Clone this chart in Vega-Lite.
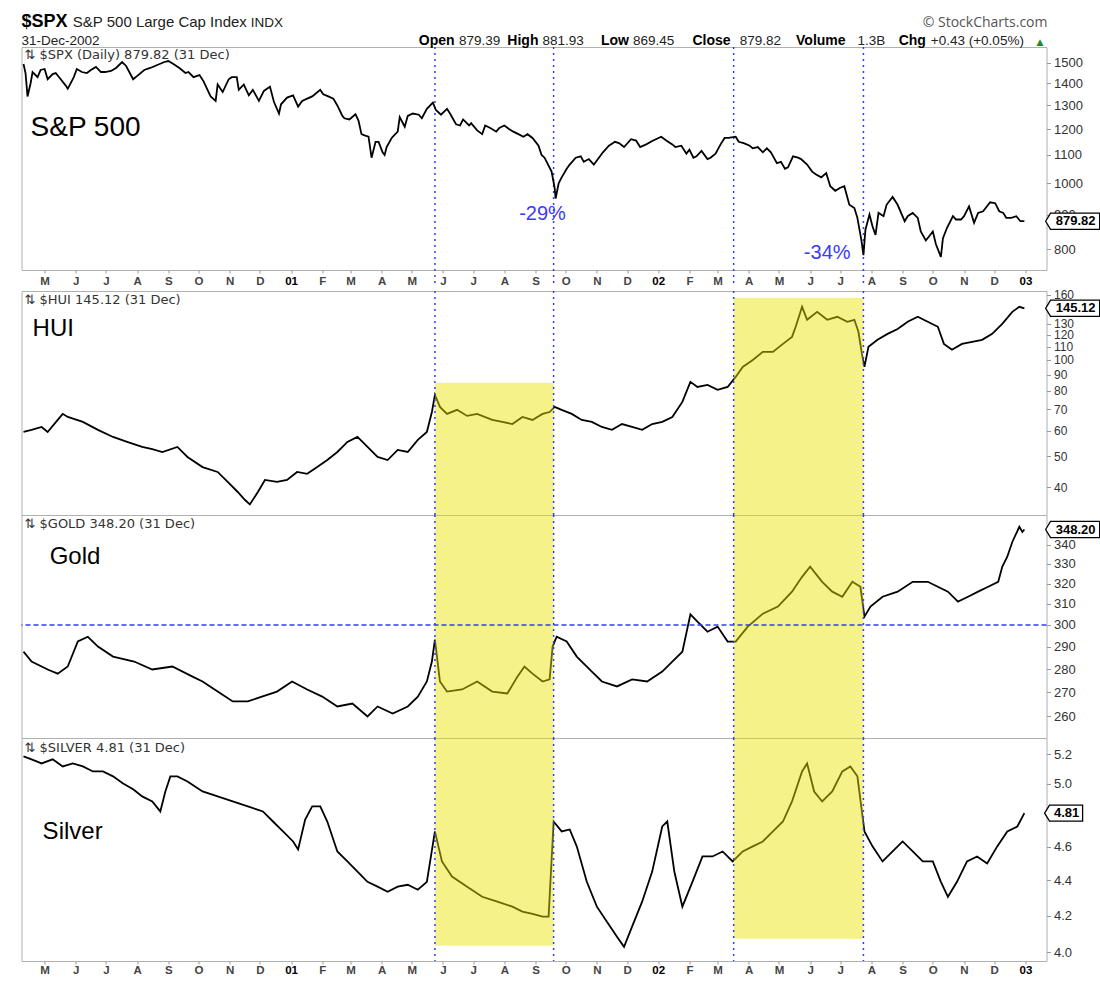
{
  "$schema": "https://vega.github.io/schema/vega-lite/v6.json",
  "background": "white",
  "padding": {"left": 18.5, "top": 12, "right": 0, "bottom": 0},
  "spacing": 0,
  "config": {"view": {"stroke": "#b0b0b0", "strokeWidth": 1}, "font": "Liberation Sans"},
  "datasets": {
    "spx": [
      {"d":"2000-04-10","v":1495},{"d":"2000-04-12","v":1450},{"d":"2000-04-14","v":1340},{"d":"2000-04-17","v":1400},{"d":"2000-04-19","v":1455},{"d":"2000-04-24","v":1430},{"d":"2000-04-27","v":1465},{"d":"2000-05-01","v":1470},{"d":"2000-05-04","v":1420},{"d":"2000-05-09","v":1445},{"d":"2000-05-12","v":1450},{"d":"2000-05-17","v":1420},{"d":"2000-05-22","v":1390},{"d":"2000-05-24","v":1375},{"d":"2000-05-30","v":1430},{"d":"2000-06-02","v":1470},{"d":"2000-06-07","v":1455},{"d":"2000-06-12","v":1450},{"d":"2000-06-16","v":1465},{"d":"2000-06-21","v":1480},{"d":"2000-06-26","v":1455},{"d":"2000-06-30","v":1455},{"d":"2000-07-06","v":1460},{"d":"2000-07-11","v":1475},{"d":"2000-07-17","v":1505},{"d":"2000-07-21","v":1485},{"d":"2000-07-28","v":1420},{"d":"2000-08-02","v":1440},{"d":"2000-08-08","v":1465},{"d":"2000-08-14","v":1475},{"d":"2000-08-21","v":1490},{"d":"2000-08-28","v":1505},{"d":"2000-09-01","v":1510},{"d":"2000-09-06","v":1495},{"d":"2000-09-12","v":1475},{"d":"2000-09-18","v":1450},{"d":"2000-09-21","v":1455},{"d":"2000-09-26","v":1430},{"d":"2000-10-02","v":1440},{"d":"2000-10-06","v":1410},{"d":"2000-10-11","v":1360},{"d":"2000-10-13","v":1340},{"d":"2000-10-18","v":1320},{"d":"2000-10-20","v":1395},{"d":"2000-10-25","v":1360},{"d":"2000-10-31","v":1420},{"d":"2000-11-03","v":1430},{"d":"2000-11-08","v":1430},{"d":"2000-11-10","v":1370},{"d":"2000-11-15","v":1395},{"d":"2000-11-20","v":1345},{"d":"2000-11-24","v":1370},{"d":"2000-11-30","v":1320},{"d":"2000-12-05","v":1365},{"d":"2000-12-11","v":1385},{"d":"2000-12-15","v":1315},{"d":"2000-12-20","v":1265},{"d":"2000-12-22","v":1305},{"d":"2000-12-28","v":1335},{"d":"2001-01-03","v":1345},{"d":"2001-01-08","v":1295},{"d":"2001-01-12","v":1320},{"d":"2001-01-17","v":1330},{"d":"2001-01-22","v":1340},{"d":"2001-01-30","v":1370},{"d":"2001-02-02","v":1350},{"d":"2001-02-07","v":1340},{"d":"2001-02-12","v":1330},{"d":"2001-02-16","v":1300},{"d":"2001-02-21","v":1255},{"d":"2001-02-23","v":1245},{"d":"2001-02-28","v":1240},{"d":"2001-03-06","v":1262},{"d":"2001-03-09","v":1235},{"d":"2001-03-12","v":1180},{"d":"2001-03-15","v":1175},{"d":"2001-03-19","v":1170},{"d":"2001-03-22","v":1090},{"d":"2001-03-26","v":1150},{"d":"2001-03-29","v":1150},{"d":"2001-04-02","v":1110},{"d":"2001-04-04","v":1100},{"d":"2001-04-06","v":1130},{"d":"2001-04-11","v":1165},{"d":"2001-04-17","v":1190},{"d":"2001-04-19","v":1250},{"d":"2001-04-24","v":1210},{"d":"2001-04-27","v":1255},{"d":"2001-05-02","v":1265},{"d":"2001-05-08","v":1260},{"d":"2001-05-11","v":1245},{"d":"2001-05-16","v":1285},{"d":"2001-05-22","v":1312},{"d":"2001-05-25","v":1280},{"d":"2001-05-30","v":1260},{"d":"2001-06-05","v":1285},{"d":"2001-06-08","v":1265},{"d":"2001-06-14","v":1220},{"d":"2001-06-18","v":1215},{"d":"2001-06-21","v":1240},{"d":"2001-06-27","v":1215},{"d":"2001-06-29","v":1225},{"d":"2001-07-05","v":1195},{"d":"2001-07-10","v":1180},{"d":"2001-07-13","v":1215},{"d":"2001-07-18","v":1205},{"d":"2001-07-24","v":1190},{"d":"2001-07-27","v":1205},{"d":"2001-08-01","v":1215},{"d":"2001-08-06","v":1200},{"d":"2001-08-10","v":1190},{"d":"2001-08-15","v":1180},{"d":"2001-08-20","v":1170},{"d":"2001-08-24","v":1180},{"d":"2001-08-29","v":1165},{"d":"2001-09-04","v":1135},{"d":"2001-09-07","v":1100},{"d":"2001-09-10","v":1090},{"d":"2001-09-17","v":1040},{"d":"2001-09-20","v":985},{"d":"2001-09-21","v":950},{"d":"2001-09-24","v":1000},{"d":"2001-09-27","v":1020},{"d":"2001-10-02","v":1050},{"d":"2001-10-05","v":1065},{"d":"2001-10-11","v":1090},{"d":"2001-10-16","v":1095},{"d":"2001-10-19","v":1075},{"d":"2001-10-24","v":1085},{"d":"2001-10-29","v":1065},{"d":"2001-11-01","v":1080},{"d":"2001-11-07","v":1110},{"d":"2001-11-13","v":1135},{"d":"2001-11-19","v":1150},{"d":"2001-11-23","v":1145},{"d":"2001-11-28","v":1130},{"d":"2001-12-05","v":1160},{"d":"2001-12-10","v":1155},{"d":"2001-12-14","v":1130},{"d":"2001-12-20","v":1140},{"d":"2001-12-27","v":1155},{"d":"2002-01-04","v":1170},{"d":"2002-01-09","v":1155},{"d":"2002-01-15","v":1140},{"d":"2002-01-18","v":1130},{"d":"2002-01-24","v":1135},{"d":"2002-01-29","v":1105},{"d":"2002-02-01","v":1120},{"d":"2002-02-05","v":1090},{"d":"2002-02-08","v":1095},{"d":"2002-02-13","v":1115},{"d":"2002-02-19","v":1085},{"d":"2002-02-22","v":1090},{"d":"2002-02-27","v":1105},{"d":"2002-03-04","v":1140},{"d":"2002-03-08","v":1165},{"d":"2002-03-12","v":1165},{"d":"2002-03-19","v":1170},{"d":"2002-03-22","v":1150},{"d":"2002-03-27","v":1145},{"d":"2002-04-02","v":1135},{"d":"2002-04-05","v":1125},{"d":"2002-04-10","v":1130},{"d":"2002-04-15","v":1110},{"d":"2002-04-19","v":1125},{"d":"2002-04-23","v":1110},{"d":"2002-04-29","v":1070},{"d":"2002-05-03","v":1075},{"d":"2002-05-07","v":1050},{"d":"2002-05-10","v":1055},{"d":"2002-05-15","v":1095},{"d":"2002-05-20","v":1090},{"d":"2002-05-23","v":1085},{"d":"2002-05-29","v":1065},{"d":"2002-06-03","v":1040},{"d":"2002-06-07","v":1030},{"d":"2002-06-12","v":1020},{"d":"2002-06-17","v":1035},{"d":"2002-06-21","v":990},{"d":"2002-06-26","v":975},{"d":"2002-07-01","v":985},{"d":"2002-07-05","v":990},{"d":"2002-07-10","v":930},{"d":"2002-07-15","v":920},{"d":"2002-07-18","v":890},{"d":"2002-07-22","v":825},{"d":"2002-07-24","v":785},{"d":"2002-07-26","v":855},{"d":"2002-07-30","v":900},{"d":"2002-08-02","v":865},{"d":"2002-08-05","v":840},{"d":"2002-08-08","v":905},{"d":"2002-08-13","v":895},{"d":"2002-08-16","v":930},{"d":"2002-08-22","v":955},{"d":"2002-08-27","v":930},{"d":"2002-09-03","v":880},{"d":"2002-09-06","v":895},{"d":"2002-09-11","v":905},{"d":"2002-09-16","v":890},{"d":"2002-09-19","v":850},{"d":"2002-09-24","v":825},{"d":"2002-09-27","v":835},{"d":"2002-10-01","v":850},{"d":"2002-10-04","v":815},{"d":"2002-10-09","v":780},{"d":"2002-10-11","v":830},{"d":"2002-10-15","v":860},{"d":"2002-10-21","v":895},{"d":"2002-10-24","v":885},{"d":"2002-10-29","v":885},{"d":"2002-11-01","v":895},{"d":"2002-11-06","v":925},{"d":"2002-11-11","v":875},{"d":"2002-11-15","v":905},{"d":"2002-11-20","v":910},{"d":"2002-11-25","v":930},{"d":"2002-11-27","v":938},{"d":"2002-12-02","v":935},{"d":"2002-12-06","v":910},{"d":"2002-12-10","v":905},{"d":"2002-12-13","v":890},{"d":"2002-12-18","v":890},{"d":"2002-12-23","v":895},{"d":"2002-12-27","v":880},{"d":"2002-12-31","v":880}
    ],
    "hui": [
      {"d":"2000-04-10","v":59.5},{"d":"2000-04-18","v":60.4},{"d":"2000-04-28","v":61.7},{"d":"2000-05-04","v":59.5},{"d":"2000-05-14","v":64.9},{"d":"2000-05-19","v":67.8},{"d":"2000-05-24","v":66.3},{"d":"2000-06-08","v":64},{"d":"2000-06-23","v":60.4},{"d":"2000-07-08","v":57.4},{"d":"2000-07-22","v":55.4},{"d":"2000-08-06","v":53.4},{"d":"2000-08-16","v":52.6},{"d":"2000-08-26","v":51.5},{"d":"2000-09-10","v":53.4},{"d":"2000-09-20","v":49.7},{"d":"2000-10-05","v":46.2},{"d":"2000-10-20","v":44.6},{"d":"2000-10-30","v":41.5},{"d":"2000-11-09","v":38.6},{"d":"2000-11-16","v":36.5},{"d":"2000-11-21","v":35.3},{"d":"2000-11-29","v":38.6},{"d":"2000-12-06","v":42.1},{"d":"2000-12-18","v":41.5},{"d":"2000-12-28","v":42.1},{"d":"2001-01-07","v":44.6},{"d":"2001-01-17","v":44},{"d":"2001-01-27","v":46.2},{"d":"2001-02-06","v":48.6},{"d":"2001-02-16","v":51.5},{"d":"2001-02-26","v":55.4},{"d":"2001-03-08","v":57.4},{"d":"2001-03-18","v":53.4},{"d":"2001-03-28","v":49.7},{"d":"2001-04-07","v":48.6},{"d":"2001-04-17","v":52.3},{"d":"2001-04-27","v":51.5},{"d":"2001-05-07","v":56.2},{"d":"2001-05-16","v":59.5},{"d":"2001-05-21","v":68.7},{"d":"2001-05-24","v":77.7},{"d":"2001-05-29","v":71.3},{"d":"2001-06-05","v":67.8},{"d":"2001-06-15","v":69.8},{"d":"2001-06-25","v":66.8},{"d":"2001-07-05","v":67.8},{"d":"2001-07-20","v":64.9},{"d":"2001-07-30","v":64},{"d":"2001-08-09","v":63},{"d":"2001-08-19","v":66.3},{"d":"2001-08-29","v":64.9},{"d":"2001-09-08","v":67.8},{"d":"2001-09-15","v":68.7},{"d":"2001-09-20","v":71.3},{"d":"2001-09-27","v":69.8},{"d":"2001-10-07","v":67.8},{"d":"2001-10-17","v":64.9},{"d":"2001-10-27","v":64},{"d":"2001-11-06","v":61.7},{"d":"2001-11-16","v":60.4},{"d":"2001-11-26","v":63},{"d":"2001-12-06","v":61.7},{"d":"2001-12-16","v":60.4},{"d":"2001-12-26","v":63},{"d":"2002-01-05","v":64},{"d":"2002-01-15","v":66.3},{"d":"2002-01-25","v":73.9},{"d":"2002-02-02","v":85.4},{"d":"2002-02-09","v":82.3},{"d":"2002-02-19","v":83.5},{"d":"2002-03-01","v":80.6},{"d":"2002-03-11","v":82.3},{"d":"2002-03-19","v":88.5},{"d":"2002-03-26","v":95.1},{"d":"2002-04-05","v":100},{"d":"2002-04-15","v":106},{"d":"2002-04-25","v":106},{"d":"2002-05-05","v":112.3},{"d":"2002-05-14","v":118.1},{"d":"2002-05-18","v":128},{"d":"2002-05-24","v":146.7},{"d":"2002-05-29","v":133.6},{"d":"2002-06-08","v":141.5},{"d":"2002-06-18","v":133.6},{"d":"2002-06-28","v":136.5},{"d":"2002-07-08","v":131.7},{"d":"2002-07-15","v":133.6},{"d":"2002-07-19","v":122.5},{"d":"2002-07-23","v":102.3},{"d":"2002-07-25","v":95.1},{"d":"2002-07-29","v":109.9},{"d":"2002-08-07","v":115.6},{"d":"2002-08-17","v":120.7},{"d":"2002-08-27","v":125},{"d":"2002-09-06","v":131.7},{"d":"2002-09-16","v":136.5},{"d":"2002-09-26","v":131.7},{"d":"2002-10-06","v":127},{"d":"2002-10-12","v":112.3},{"d":"2002-10-20","v":107.6},{"d":"2002-10-30","v":112.3},{"d":"2002-11-09","v":114},{"d":"2002-11-19","v":115.6},{"d":"2002-11-29","v":120.7},{"d":"2002-12-09","v":129.8},{"d":"2002-12-19","v":141.5},{"d":"2002-12-26","v":146.7},{"d":"2002-12-31","v":145.12}
    ],
    "gold": [
      {"d":"2000-04-10","v":287.7},{"d":"2000-04-18","v":283.3},{"d":"2000-05-04","v":279.8},{"d":"2000-05-14","v":278},{"d":"2000-05-24","v":281.1},{"d":"2000-06-03","v":292.3},{"d":"2000-06-13","v":294.5},{"d":"2000-06-23","v":290},{"d":"2000-07-08","v":285.5},{"d":"2000-07-29","v":283.3},{"d":"2000-08-16","v":279.8},{"d":"2000-09-05","v":281.1},{"d":"2000-09-25","v":276.7},{"d":"2000-10-05","v":274.6},{"d":"2000-10-20","v":270.3},{"d":"2000-11-04","v":266.2},{"d":"2000-11-19","v":266.2},{"d":"2000-12-03","v":268.2},{"d":"2000-12-18","v":270.3},{"d":"2001-01-02","v":274.6},{"d":"2001-01-17","v":271.2},{"d":"2001-02-01","v":268.2},{"d":"2001-02-16","v":264.1},{"d":"2001-03-03","v":265.3},{"d":"2001-03-18","v":260},{"d":"2001-03-28","v":264.1},{"d":"2001-04-12","v":261.2},{"d":"2001-04-27","v":264.1},{"d":"2001-05-07","v":268.2},{"d":"2001-05-16","v":274.6},{"d":"2001-05-21","v":283.3},{"d":"2001-05-24","v":293.2},{"d":"2001-05-29","v":274.6},{"d":"2001-06-05","v":270.3},{"d":"2001-06-20","v":271.2},{"d":"2001-07-05","v":274.6},{"d":"2001-07-20","v":270.3},{"d":"2001-08-04","v":269.5},{"d":"2001-08-14","v":276.7},{"d":"2001-08-21","v":281.1},{"d":"2001-08-29","v":278},{"d":"2001-09-08","v":274.6},{"d":"2001-09-15","v":275.5},{"d":"2001-09-18","v":290},{"d":"2001-09-22","v":294.5},{"d":"2001-10-02","v":292.3},{"d":"2001-10-12","v":285.5},{"d":"2001-10-27","v":278.9},{"d":"2001-11-06","v":274.6},{"d":"2001-11-21","v":272.5},{"d":"2001-12-06","v":275.5},{"d":"2001-12-21","v":274.6},{"d":"2002-01-05","v":278.9},{"d":"2002-01-15","v":283.3},{"d":"2002-01-25","v":287.7},{"d":"2002-02-02","v":305},{"d":"2002-02-09","v":301.5},{"d":"2002-02-19","v":296.8},{"d":"2002-03-01","v":299.2},{"d":"2002-03-11","v":292.3},{"d":"2002-03-19","v":292.3},{"d":"2002-03-31","v":299.2},{"d":"2002-04-15","v":305.3},{"d":"2002-04-30","v":308.7},{"d":"2002-05-14","v":316},{"d":"2002-05-24","v":323.4},{"d":"2002-06-01","v":328.5},{"d":"2002-06-13","v":320.9},{"d":"2002-06-23","v":316},{"d":"2002-07-03","v":313.5},{"d":"2002-07-13","v":320.9},{"d":"2002-07-21","v":318.4},{"d":"2002-07-25","v":303.9},{"d":"2002-07-31","v":308.7},{"d":"2002-08-12","v":313.5},{"d":"2002-08-27","v":316},{"d":"2002-09-11","v":320.9},{"d":"2002-09-26","v":320.9},{"d":"2002-10-06","v":318.4},{"d":"2002-10-16","v":316},{"d":"2002-10-26","v":311.1},{"d":"2002-11-05","v":313.5},{"d":"2002-11-15","v":316},{"d":"2002-11-25","v":318.4},{"d":"2002-12-05","v":320.9},{"d":"2002-12-09","v":328.5},{"d":"2002-12-14","v":333.7},{"d":"2002-12-19","v":341.5},{"d":"2002-12-26","v":349.7},{"d":"2002-12-29","v":346.9},{"d":"2002-12-31","v":348.2}
    ],
    "silver": [
      {"d":"2000-04-10","v":5.185},{"d":"2000-04-18","v":5.165},{"d":"2000-04-28","v":5.137},{"d":"2000-05-09","v":5.165},{"d":"2000-05-19","v":5.117},{"d":"2000-05-29","v":5.137},{"d":"2000-06-08","v":5.117},{"d":"2000-06-18","v":5.083},{"d":"2000-06-28","v":5.083},{"d":"2000-07-08","v":5.05},{"d":"2000-07-18","v":5.003},{"d":"2000-07-28","v":4.964},{"d":"2000-08-06","v":4.918},{"d":"2000-08-16","v":4.885},{"d":"2000-08-24","v":4.821},{"d":"2000-08-29","v":4.95},{"d":"2000-09-03","v":5.05},{"d":"2000-09-10","v":5.05},{"d":"2000-09-20","v":5.016},{"d":"2000-10-05","v":4.95},{"d":"2000-10-20","v":4.918},{"d":"2000-11-04","v":4.885},{"d":"2000-11-19","v":4.853},{"d":"2000-12-04","v":4.821},{"d":"2000-12-14","v":4.757},{"d":"2000-12-24","v":4.695},{"d":"2001-01-03","v":4.633},{"d":"2001-01-08","v":4.584},{"d":"2001-01-15","v":4.77},{"d":"2001-01-22","v":4.853},{"d":"2001-01-30","v":4.853},{"d":"2001-02-06","v":4.757},{"d":"2001-02-16","v":4.572},{"d":"2001-02-26","v":4.512},{"d":"2001-03-08","v":4.452},{"d":"2001-03-18","v":4.392},{"d":"2001-03-28","v":4.364},{"d":"2001-04-07","v":4.335},{"d":"2001-04-17","v":4.364},{"d":"2001-04-27","v":4.375},{"d":"2001-05-07","v":4.346},{"d":"2001-05-16","v":4.392},{"d":"2001-05-24","v":4.695},{"d":"2001-05-31","v":4.512},{"d":"2001-06-10","v":4.423},{"d":"2001-06-25","v":4.364},{"d":"2001-07-10","v":4.306},{"d":"2001-07-25","v":4.278},{"d":"2001-08-09","v":4.25},{"d":"2001-08-19","v":4.222},{"d":"2001-08-29","v":4.21},{"d":"2001-09-08","v":4.194},{"d":"2001-09-14","v":4.194},{"d":"2001-09-19","v":4.757},{"d":"2001-09-27","v":4.695},{"d":"2001-10-05","v":4.707},{"d":"2001-10-12","v":4.603},{"d":"2001-10-22","v":4.392},{"d":"2001-11-01","v":4.25},{"d":"2001-11-11","v":4.166},{"d":"2001-11-21","v":4.084},{"d":"2001-11-28","v":4.03},{"d":"2001-12-06","v":4.139},{"d":"2001-12-16","v":4.278},{"d":"2001-12-26","v":4.452},{"d":"2002-01-05","v":4.726},{"d":"2002-01-10","v":4.757},{"d":"2002-01-17","v":4.452},{"d":"2002-01-25","v":4.25},{"d":"2002-02-04","v":4.392},{"d":"2002-02-14","v":4.542},{"d":"2002-02-24","v":4.542},{"d":"2002-03-06","v":4.572},{"d":"2002-03-16","v":4.512},{"d":"2002-03-26","v":4.572},{"d":"2002-04-05","v":4.603},{"d":"2002-04-15","v":4.633},{"d":"2002-04-25","v":4.695},{"d":"2002-05-05","v":4.757},{"d":"2002-05-14","v":4.885},{"d":"2002-05-24","v":5.083},{"d":"2002-05-29","v":5.137},{"d":"2002-06-05","v":4.95},{"d":"2002-06-13","v":4.885},{"d":"2002-06-23","v":4.95},{"d":"2002-07-03","v":5.083},{"d":"2002-07-11","v":5.117},{"d":"2002-07-18","v":5.05},{"d":"2002-07-25","v":4.695},{"d":"2002-08-02","v":4.603},{"d":"2002-08-12","v":4.512},{"d":"2002-08-22","v":4.572},{"d":"2002-09-01","v":4.633},{"d":"2002-09-11","v":4.572},{"d":"2002-09-21","v":4.512},{"d":"2002-10-01","v":4.512},{"d":"2002-10-09","v":4.392},{"d":"2002-10-16","v":4.306},{"d":"2002-10-25","v":4.392},{"d":"2002-11-04","v":4.512},{"d":"2002-11-14","v":4.542},{"d":"2002-11-24","v":4.5},{"d":"2002-12-04","v":4.603},{"d":"2002-12-14","v":4.695},{"d":"2002-12-24","v":4.726},{"d":"2002-12-31","v":4.81}
    ],
    "vl": [{"d":"2001-05-24","st":1583,"sb":706},{"d":"2001-09-19","st":1583,"sb":706},{"d":"2002-03-17","st":1583,"sb":706},{"d":"2002-07-24","st":1583,"sb":706}],
    "hl": [{"d1":"2001-05-24","d2":"2001-09-19","top":84.8,"hb":32.7,"st":5.313,"bot":4.036},{"d1":"2002-03-17","d2":"2002-07-24","top":156.6,"hb":32.7,"st":5.313,"bot":4.073}]
  },
  "vconcat": [
    {
      "width": 1025, "height": 223,
      "layer": [
        {"data": {"name": "vl"}, "mark": {"type": "rule", "color": "#2f3cff", "strokeDash": [2, 4], "strokeWidth": 1.5},
         "encoding": {"x": {"field": "d", "type": "temporal", "title": null}, "y": {"field": "st", "type": "quantitative", "title": null}, "y2": {"field": "sb"}}},
        {"data": {"name": "spx"}, "mark": {"type": "line", "color": "#000", "strokeWidth": 1.8},
         "encoding": {
           "x": {"field": "d", "type": "temporal", "title": null,
                 "scale": {"type": "utc", "domain": [{"year": 2000, "month": 4, "date": 8, "utc": true}, {"year": 2003, "month": 1, "date": 22, "utc": true}]},
                 "axis": {"orient": "bottom", "tickCount": {"interval": "month", "step": 1}, "labelExpr": "utcmonth(datum.value)==0 ? utcFormat(datum.value,'%y') : slice(utcFormat(datum.value,'%b'),0,1)", "labelFontWeight": "bold", "labelFont": "Liberation Sans", "labelFontSize": 11.5, "labelColor": {"condition": {"test": "utcmonth(datum.value)==0", "value": "#000"}, "value": "#444"}, "grid": false, "domain": false, "ticks": true, "tickSize": 3, "tickColor": "#999", "labelPadding": 2, "minExtent": 17, "maxExtent": 17, "labelFlush": false, "labelOverlap": false, "title": null}},
           "y": {"field": "v", "type": "quantitative", "title": null,
                 "scale": {"type": "log", "domain": [746.5, 1583], "nice": false},
                 "axis": {"orient": "right", "values": [800, 900, 1000, 1100, 1200, 1300, 1400, 1500], "format": "d", "title": null, "grid": false, "domain": false, "tickSize": 4, "tickColor": "#999", "labelFont": "Liberation Sans", "labelFontSize": 13, "labelColor": "#333", "labelPadding": 3, "labelOverlap": false, "labelFlush": false, "labelBound": false}}
         }},
        {"data": {"values": [{"d": "2000-04-17", "v": 1203, "t": "S&P 500"}]}, "mark": {"type": "text", "fontSize": 28, "align": "left", "baseline": "middle", "font": "Liberation Sans", "color": "#000"},
         "encoding": {"x": {"field": "d", "type": "temporal", "title": null}, "y": {"field": "v", "type": "quantitative", "title": null}, "text": {"field": "t"}}},
        {"data": {"values": [{"d": "2001-09-08", "v": 903, "t": "-29%"}, {"d": "2002-06-18", "v": 789.5, "t": "-34%"}]}, "mark": {"type": "text", "fontSize": 20, "align": "center", "baseline": "middle", "font": "Liberation Sans", "color": "#3a3aff"},
         "encoding": {"x": {"field": "d", "type": "temporal", "title": null}, "y": {"field": "v", "type": "quantitative", "title": null}, "text": {"field": "t"}}},
        {"data": {"values": [{"d": "2000-04-11", "v": 1539, "t": "⇅ $SPX (Daily) 879.82 (31 Dec)"}]}, "mark": {"type": "text", "fontSize": 13, "align": "left", "baseline": "middle", "font": "DejaVu Sans", "color": "#333"},
         "encoding": {"x": {"field": "d", "type": "temporal", "title": null}, "y": {"field": "v", "type": "quantitative", "title": null}, "text": {"field": "t"}}},
        {"data": {"values": [{"d": "2000-04-08", "v": 1692, "t": "$SPX"}]}, "mark": {"type": "text", "fontSize": 18, "fontWeight": "bold", "align": "left", "baseline": "alphabetic", "font": "Liberation Sans", "color": "#000"},
         "encoding": {"x": {"field": "d", "type": "temporal", "title": null}, "y": {"field": "v", "type": "quantitative", "title": null}, "text": {"field": "t"}}},
        {"data": {"values": [{"d": "2000-05-29", "v": 1692, "t": "S&P 500 Large Cap Index"}]}, "mark": {"type": "text", "fontSize": 15, "align": "left", "baseline": "alphabetic", "font": "Liberation Sans", "color": "#222"},
         "encoding": {"x": {"field": "d", "type": "temporal", "title": null}, "y": {"field": "v", "type": "quantitative", "title": null}, "text": {"field": "t"}}},
        {"data": {"values": [{"d": "2000-11-22", "v": 1692, "t": "INDX"}, {"d": "2000-04-08", "v": 1592, "t": "31-Dec-2002"}]}, "mark": {"type": "text", "fontSize": 13.5, "align": "left", "baseline": "alphabetic", "font": "Liberation Sans", "color": "#222"},
         "encoding": {"x": {"field": "d", "type": "temporal", "title": null}, "y": {"field": "v", "type": "quantitative", "title": null}, "text": {"field": "t"}}},
        {"data": {"values": [{"d": "2001-05-08", "v": 1592, "t": "Open"}, {"d": "2001-08-04", "v": 1592, "t": "High"}, {"d": "2001-11-05", "v": 1592, "t": "Low"}, {"d": "2002-02-04", "v": 1592, "t": "Close"}, {"d": "2002-05-18", "v": 1592, "t": "Volume"}, {"d": "2002-08-28", "v": 1592, "t": "Chg"}]}, "mark": {"type": "text", "fontSize": 14, "fontWeight": "bold", "align": "left", "baseline": "alphabetic", "font": "Liberation Sans", "color": "#000"},
         "encoding": {"x": {"field": "d", "type": "temporal", "title": null}, "y": {"field": "v", "type": "quantitative", "title": null}, "text": {"field": "t"}}},
        {"data": {"values": [{"d": "2001-06-17", "v": 1592, "t": "879.39"}, {"d": "2001-09-08", "v": 1592, "t": "881.93"}, {"d": "2001-12-07", "v": 1592, "t": "869.45"}, {"d": "2002-03-23", "v": 1592, "t": "879.82"}, {"d": "2002-07-18", "v": 1592, "t": "1.3B"}, {"d": "2002-09-29", "v": 1592, "t": "+0.43 (+0.05%)"}]}, "mark": {"type": "text", "fontSize": 13.5, "align": "left", "baseline": "alphabetic", "font": "Liberation Sans", "color": "#222"},
         "encoding": {"x": {"field": "d", "type": "temporal", "title": null}, "y": {"field": "v", "type": "quantitative", "title": null}, "text": {"field": "t"}}},
        {"data": {"values": [{"d": "2003-01-12", "v": 1592, "t": "▲"}]}, "mark": {"type": "text", "fontSize": 9, "align": "left", "baseline": "alphabetic", "font": "DejaVu Sans", "color": "#1a8f1a"},
         "encoding": {"x": {"field": "d", "type": "temporal", "title": null}, "y": {"field": "v", "type": "quantitative", "title": null}, "text": {"field": "t"}}},
        {"data": {"values": [{"d": "2003-01-23", "v": 1692, "t": "© StockCharts.com"}]}, "mark": {"type": "text", "fontSize": 14, "align": "right", "baseline": "alphabetic", "font": "Open Sans", "color": "#555"},
         "encoding": {"x": {"field": "d", "type": "temporal", "title": null}, "y": {"field": "v", "type": "quantitative", "title": null}, "text": {"field": "t"}}},
        {"data": {"values": [{"d": "2003-02-17", "v": 879.82, "t": "879.82"}]}, "mark": {"type": "point", "shape": "M-1,0L-0.82,-0.3L1,-0.3L1,0.3L-0.82,0.3Z", "size": 2916, "filled": true, "fill": "#fff", "stroke": "#000", "strokeWidth": 1.3, "opacity": 1},
         "encoding": {"x": {"field": "d", "type": "temporal", "title": null}, "y": {"field": "v", "type": "quantitative", "title": null}}},
        {"data": {"values": [{"d": "2003-02-17", "v": 879.82, "t": "879.82"}]}, "mark": {"type": "text", "fontSize": 13, "fontWeight": "bold", "dx": 3, "align": "center", "baseline": "middle", "font": "Liberation Sans", "color": "#000"},
         "encoding": {"x": {"field": "d", "type": "temporal", "title": null}, "y": {"field": "v", "type": "quantitative", "title": null}, "text": {"field": "t"}}}
      ]
    },
    {
      "spacing": 0,
      "bounds": "flush",
      "vconcat": [
        {
          "width": 1025, "height": 224,
          "layer": [
            {"data": {"name": "hui"}, "mark": {"type": "line", "color": "#000", "strokeWidth": 1.8},
             "encoding": {
               "x": {"field": "d", "type": "temporal", "title": null, "axis": null,
                     "scale": {"type": "utc", "domain": [{"year": 2000, "month": 4, "date": 8, "utc": true}, {"year": 2003, "month": 1, "date": 22, "utc": true}]}},
               "y": {"field": "v", "type": "quantitative", "title": null,
                     "scale": {"type": "log", "domain": [32.7, 164.4], "nice": false},
                     "axis": {"orient": "right", "values": [40, 50, 60, 70, 80, 90, 100, 110, 120, 130, 160], "title": null, "grid": false, "domain": false, "tickSize": 4, "tickColor": "#999", "labelFont": "Liberation Sans", "labelFontSize": 12, "labelColor": "#333", "labelPadding": 3, "labelOverlap": false, "labelFlush": false, "labelBound": false}}
             }},
            {"data": {"name": "hl"}, "mark": {"type": "rect", "color": "#ebe300", "opacity": 0.46},
             "encoding": {"x": {"field": "d1", "type": "temporal", "title": null, "axis": null}, "x2": {"field": "d2"}, "y": {"field": "top", "type": "quantitative", "title": null}, "y2": {"field": "hb"}}},
            {"data": {"name": "vl"}, "mark": {"type": "rule", "color": "#2f3cff", "strokeDash": [2, 4], "strokeWidth": 1.5},
             "encoding": {"x": {"field": "d", "type": "temporal", "title": null, "axis": null}}},
            {"data": {"values": [{"d": "2000-04-19", "v": 125.2, "t": "HUI"}]}, "mark": {"type": "text", "fontSize": 24, "align": "left", "baseline": "middle", "font": "Liberation Sans", "color": "#000"},
             "encoding": {"x": {"field": "d", "type": "temporal", "title": null, "axis": null}, "y": {"field": "v", "type": "quantitative", "title": null}, "text": {"field": "t"}}},
            {"data": {"values": [{"d": "2000-04-11", "v": 154.3, "t": "⇅ $HUI 145.12 (31 Dec)"}]}, "mark": {"type": "text", "fontSize": 13, "align": "left", "baseline": "middle", "font": "DejaVu Sans", "color": "#333"},
             "encoding": {"x": {"field": "d", "type": "temporal", "title": null, "axis": null}, "y": {"field": "v", "type": "quantitative", "title": null}, "text": {"field": "t"}}},
            {"data": {"values": [{"d": "2003-02-17", "v": 145.12, "t": "145.12"}]}, "mark": {"type": "point", "shape": "M-1,0L-0.82,-0.3L1,-0.3L1,0.3L-0.82,0.3Z", "size": 2916, "filled": true, "fill": "#fff", "stroke": "#000", "strokeWidth": 1.3, "opacity": 1},
             "encoding": {"x": {"field": "d", "type": "temporal", "title": null, "axis": null}, "y": {"field": "v", "type": "quantitative", "title": null}}},
            {"data": {"values": [{"d": "2003-02-17", "v": 145.12, "t": "145.12"}]}, "mark": {"type": "text", "fontSize": 13, "fontWeight": "bold", "dx": 3, "align": "center", "baseline": "middle", "font": "Liberation Sans", "color": "#000"},
             "encoding": {"x": {"field": "d", "type": "temporal", "title": null, "axis": null}, "y": {"field": "v", "type": "quantitative", "title": null}, "text": {"field": "t"}}}
          ]
        },
        {
          "width": 1025, "height": 223,
          "layer": [
            {"data": {"name": "gold"}, "mark": {"type": "line", "color": "#000", "strokeWidth": 1.8},
             "encoding": {
               "x": {"field": "d", "type": "temporal", "title": null, "axis": null,
                     "scale": {"type": "utc", "domain": [{"year": 2000, "month": 4, "date": 8, "utc": true}, {"year": 2003, "month": 1, "date": 22, "utc": true}]}},
               "y": {"field": "v", "type": "quantitative", "title": null,
                     "scale": {"type": "log", "domain": [251.4, 356.2], "nice": false},
                     "axis": {"orient": "right", "values": [260, 270, 280, 290, 300, 310, 320, 330, 340], "title": null, "grid": false, "domain": false, "tickSize": 4, "tickColor": "#999", "labelFont": "Liberation Sans", "labelFontSize": 13, "labelColor": "#333", "labelPadding": 3, "labelOverlap": false, "labelFlush": false, "labelBound": false}}
             }},
            {"data": {"name": "hl"}, "mark": {"type": "rect", "color": "#ebe300", "opacity": 0.46},
             "encoding": {"x": {"field": "d1", "type": "temporal", "title": null, "axis": null}, "x2": {"field": "d2"}}},
            {"data": {"name": "vl"}, "mark": {"type": "rule", "color": "#2f3cff", "strokeDash": [2, 4], "strokeWidth": 1.5},
             "encoding": {"x": {"field": "d", "type": "temporal", "title": null, "axis": null}}},
            {"data": {"values": [{"v": 300}]}, "mark": {"type": "rule", "color": "#2f3cff", "strokeDash": [5, 3], "strokeWidth": 1.5},
             "encoding": {"y": {"field": "v", "type": "quantitative", "title": null}}},
            {"data": {"values": [{"d": "2000-05-06", "v": 333.6, "t": "Gold"}]}, "mark": {"type": "text", "fontSize": 24, "align": "left", "baseline": "middle", "font": "Liberation Sans", "color": "#000"},
             "encoding": {"x": {"field": "d", "type": "temporal", "title": null, "axis": null}, "y": {"field": "v", "type": "quantitative", "title": null}, "text": {"field": "t"}}},
            {"data": {"values": [{"d": "2000-04-11", "v": 351.4, "t": "⇅ $GOLD 348.20 (31 Dec)"}]}, "mark": {"type": "text", "fontSize": 13, "align": "left", "baseline": "middle", "font": "DejaVu Sans", "color": "#333"},
             "encoding": {"x": {"field": "d", "type": "temporal", "title": null, "axis": null}, "y": {"field": "v", "type": "quantitative", "title": null}, "text": {"field": "t"}}},
            {"data": {"values": [{"d": "2003-02-17", "v": 348.2, "t": "348.20"}]}, "mark": {"type": "point", "shape": "M-1,0L-0.82,-0.3L1,-0.3L1,0.3L-0.82,0.3Z", "size": 2916, "filled": true, "fill": "#fff", "stroke": "#000", "strokeWidth": 1.3, "opacity": 1},
             "encoding": {"x": {"field": "d", "type": "temporal", "title": null, "axis": null}, "y": {"field": "v", "type": "quantitative", "title": null}}},
            {"data": {"values": [{"d": "2003-02-17", "v": 348.2, "t": "348.20"}]}, "mark": {"type": "text", "fontSize": 13, "fontWeight": "bold", "dx": 3, "align": "center", "baseline": "middle", "font": "Liberation Sans", "color": "#000"},
             "encoding": {"x": {"field": "d", "type": "temporal", "title": null, "axis": null}, "y": {"field": "v", "type": "quantitative", "title": null}, "text": {"field": "t"}}}
          ]
        },
        {
          "width": 1025, "height": 223,
          "layer": [
            {"data": {"name": "silver"}, "mark": {"type": "line", "color": "#000", "strokeWidth": 1.8},
             "encoding": {
               "x": {"field": "d", "type": "temporal", "title": null,
                     "scale": {"type": "utc", "domain": [{"year": 2000, "month": 4, "date": 8, "utc": true}, {"year": 2003, "month": 1, "date": 22, "utc": true}]},
                     "axis": {"orient": "bottom", "tickCount": {"interval": "month", "step": 1}, "labelExpr": "utcmonth(datum.value)==0 ? utcFormat(datum.value,'%y') : slice(utcFormat(datum.value,'%b'),0,1)", "labelFontWeight": "bold", "labelFont": "Liberation Sans", "labelFontSize": 11.5, "labelColor": {"condition": {"test": "utcmonth(datum.value)==0", "value": "#000"}, "value": "#444"}, "grid": false, "domain": false, "ticks": true, "tickSize": 3, "tickColor": "#999", "labelPadding": 0, "labelFlush": false, "labelOverlap": false, "title": null}},
               "y": {"field": "v", "type": "quantitative", "title": null,
                     "scale": {"type": "log", "domain": [3.955, 5.313], "nice": false},
                     "axis": {"orient": "right", "values": [4.0, 4.2, 4.4, 4.6, 5.0, 5.2], "format": ".1f", "title": null, "grid": false, "domain": false, "tickSize": 4, "tickColor": "#999", "labelFont": "Liberation Sans", "labelFontSize": 13, "labelColor": "#333", "labelPadding": 3, "labelOverlap": false, "labelFlush": false, "labelBound": false}}
             }},
            {"data": {"name": "hl"}, "mark": {"type": "rect", "color": "#ebe300", "opacity": 0.46},
             "encoding": {"x": {"field": "d1", "type": "temporal", "title": null}, "x2": {"field": "d2"}, "y": {"field": "st", "type": "quantitative", "title": null}, "y2": {"field": "bot"}}},
            {"data": {"name": "vl"}, "mark": {"type": "rule", "color": "#2f3cff", "strokeDash": [2, 4], "strokeWidth": 1.5},
             "encoding": {"x": {"field": "d", "type": "temporal", "title": null}}},
            {"data": {"values": [{"d": "2000-04-29", "v": 4.69, "t": "Silver"}]}, "mark": {"type": "text", "fontSize": 24, "align": "left", "baseline": "middle", "font": "Liberation Sans", "color": "#000"},
             "encoding": {"x": {"field": "d", "type": "temporal", "title": null}, "y": {"field": "v", "type": "quantitative", "title": null}, "text": {"field": "t"}}},
            {"data": {"values": [{"d": "2000-04-11", "v": 5.246, "t": "⇅ $SILVER 4.81 (31 Dec)"}]}, "mark": {"type": "text", "fontSize": 13, "align": "left", "baseline": "middle", "font": "DejaVu Sans", "color": "#333"},
             "encoding": {"x": {"field": "d", "type": "temporal", "title": null}, "y": {"field": "v", "type": "quantitative", "title": null}, "text": {"field": "t"}}},
            {"data": {"values": [{"d": "2003-02-08", "v": 4.81, "t": "4.81"}]}, "mark": {"type": "point", "shape": "M-1,0L-0.74,-0.42L1,-0.42L1,0.42L-0.74,0.42Z", "size": 1444, "filled": true, "fill": "#fff", "stroke": "#000", "strokeWidth": 1.3, "opacity": 1},
             "encoding": {"x": {"field": "d", "type": "temporal", "title": null}, "y": {"field": "v", "type": "quantitative", "title": null}}},
            {"data": {"values": [{"d": "2003-02-08", "v": 4.81, "t": "4.81"}]}, "mark": {"type": "text", "fontSize": 13, "fontWeight": "bold", "dx": 3, "align": "center", "baseline": "middle", "font": "Liberation Sans", "color": "#000"},
             "encoding": {"x": {"field": "d", "type": "temporal", "title": null}, "y": {"field": "v", "type": "quantitative", "title": null}, "text": {"field": "t"}}}
          ]
        }
      ]
    }
  ]
}
